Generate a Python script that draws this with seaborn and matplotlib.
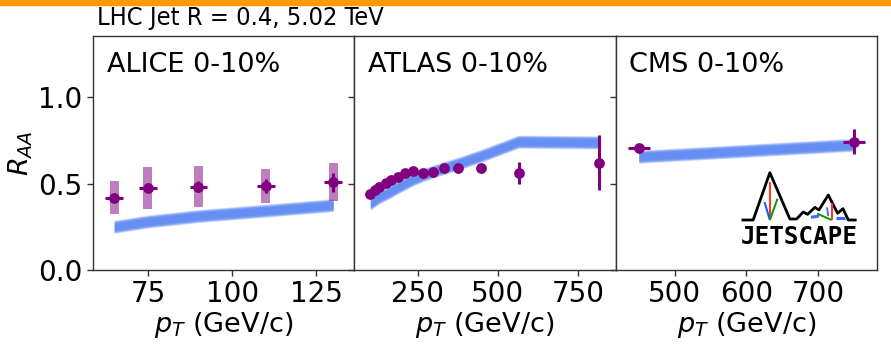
import numpy as np
import matplotlib
matplotlib.use("Agg")
import matplotlib.pyplot as plt
from matplotlib.patches import Rectangle
import seaborn as sns

# ---------------- data ----------------
# ALICE 0-10%
alice_pt = [65, 75, 90, 110, 130]
alice_raa = [0.418, 0.476, 0.482, 0.487, 0.507]
alice_stat = [0.010, 0.020, 0.033, 0.040, 0.056]
alice_sys = [0.097, 0.122, 0.118, 0.098, 0.110]
alice_xerr = [2.6, 2.6, 2.6, 2.6, 2.6]
alice_model = [0.250, 0.280, 0.312, 0.343, 0.375]

# ATLAS 0-10%
atlas_pt = [102, 117, 130, 151, 167, 188, 211, 236, 266, 299, 333, 377, 448, 565, 816]
atlas_raa = [0.439, 0.462, 0.482, 0.505, 0.520, 0.536, 0.559, 0.574, 0.559, 0.565,
             0.588, 0.588, 0.592, 0.563, 0.620]
atlas_stat = [0.010, 0.010, 0.010, 0.010, 0.010, 0.010, 0.010, 0.010, 0.010, 0.010,
              0.012, 0.014, 0.020, 0.063, 0.160]
atlas_model = [0.385, 0.403, 0.420, 0.440, 0.455, 0.478, 0.500, 0.524, 0.548, 0.570,
               0.590, 0.615, 0.660, 0.742, 0.738]

# CMS 0-10%
cms_pt = [450, 750]
cms_raa = [0.703, 0.742]
cms_stat = [0.020, 0.072]
cms_xerr = [15.7, 15.7]
cms_model = [0.655, 0.724]

panel_titles = ["ALICE 0-10%", "ATLAS 0-10%", "CMS 0-10%"]
panel_xticks = [[75, 100, 125], [250, 500, 750], [500, 600, 700]]
panel_xlims = [(58.7, 136.3), (52, 868), (417.7, 781.9)]
y_ticks = [0.0, 0.5, 1.0]
suptitle = "LHC Jet R = 0.4, 5.02 TeV"

# ---------------- style ----------------
sns.set_theme(style="ticks")
plt.rcParams.update({
    "font.family": ["DejaVu Sans"],
    "text.color": "black",
    "axes.labelcolor": "black",
    "axes.edgecolor": "#333333",
    "axes.linewidth": 1.0,
    "xtick.color": "#333333",
    "ytick.color": "#333333",
    "xtick.labelcolor": "black",
    "ytick.labelcolor": "black",
    "xtick.major.size": 4,
    "ytick.major.size": 4,
    "xtick.major.width": 1.0,
    "ytick.major.width": 1.0,
    "xtick.labelsize": 20,
    "ytick.labelsize": 20,
    "axes.labelsize": 19.5,
    "mathtext.fontset": "dejavusans",
})

MODEL_COLOR = "#4f7ff2"
DATA_COLOR = "purple"

fig, axes = plt.subplots(1, 3, sharey=True, figsize=(8.91, 3.46), dpi=100)
fig.subplots_adjust(left=93 / 891, right=877 / 891, bottom=76 / 346,
                    top=310 / 346, wspace=0)


def model_band(ax, x, y):
    """Soft-edged theory band: stacked translucent fills."""
    x = np.asarray(x, float)
    y = np.asarray(y, float)
    n = 8
    for i in range(n):
        half = 0.020 + 0.018 * (1 - i / (n - 1))
        ax.fill_between(x, y - half, y + half, color=MODEL_COLOR,
                        alpha=0.22, lw=0, zorder=1)


def data_points(ax, x, y, yerr, xerr=None):
    ax.errorbar(x, y, yerr=yerr, xerr=xerr, fmt="none", ecolor=DATA_COLOR,
                elinewidth=2.2, capsize=0, zorder=4)
    sns.scatterplot(x=x, y=y, ax=ax, color=DATA_COLOR, s=60,
                    edgecolor=DATA_COLOR, linewidth=0, zorder=5, legend=False)


# ALICE
ax = axes[0]
model_band(ax, alice_pt, alice_model)
ax.bar(alice_pt, [2 * s for s in alice_sys],
       bottom=[r - s for r, s in zip(alice_raa, alice_sys)],
       width=2.7, color=DATA_COLOR, alpha=0.5, lw=0, zorder=2)
data_points(ax, alice_pt, alice_raa, alice_stat, alice_xerr)

# ATLAS
ax = axes[1]
model_band(ax, atlas_pt, atlas_model)
data_points(ax, atlas_pt, atlas_raa, atlas_stat)

# CMS
ax = axes[2]
model_band(ax, cms_pt, cms_model)
data_points(ax, cms_pt, cms_raa, cms_stat, cms_xerr)

for ax, title, ticks, lims in zip(axes, panel_titles, panel_xticks, panel_xlims):
    ax.set_xlim(*lims)
    ax.set_xticks(ticks)
    ax.set_ylim(0, 1.353)
    ax.set_yticks(y_ticks)
    ax.set_xlabel(r"$p_T$ (GeV/c)", labelpad=1)
    ax.text(0.052, 0.93, title, transform=ax.transAxes, fontsize=19.5,
            ha="left", va="top")
    for sp in ax.spines.values():
        sp.set_visible(True)

axes[0].set_ylabel(r"$R_{AA}$", labelpad=2)

# JETSCAPE logo in the CMS panel
lax = axes[2]


def px(zx, zy):
    fx = (615 + zx / 3 - 616) / 261
    fy = (270 - (120 + zy / 3)) / 234
    return fx, fy


def logo_line(pts, color, lw):
    xs, ys = zip(*[px(a, b) for a, b in pts])
    lax.plot(xs, ys, color=color, lw=lw, transform=lax.transAxes,
             solid_capstyle="butt", zorder=6)


logo_line([(380, 300), (415, 300), (465, 158), (525, 297), (545, 297),
           (565, 276), (578, 283), (600, 262), (612, 270), (640, 225),
           (668, 280), (684, 266), (700, 300), (725, 300)], "black", 2.0)
logo_line([(465, 186), (465, 300)], "#ff3b1f", 1.5)
logo_line([(449, 246), (465, 300)], "#2255ff", 1.5)
logo_line([(488, 236), (465, 300)], "#119911", 1.5)
logo_line([(650, 250), (650, 300)], "#ff3b1f", 1.5)
logo_line([(607, 281), (650, 300)], "#119911", 1.5)
logo_line([(636, 262), (640, 288)], "#4466ff", 1.3)
logo_line([(588, 292), (612, 288)], "#4466ff", 2.2)
logo_line([(662, 294), (690, 294)], "#4466ff", 2.2)
tx, ty = px(553, 350)
lax.text(tx, ty, "JETSCAPE", transform=lax.transAxes, fontsize=17.5,
         fontweight="bold", ha="center", va="center", color="black",
         family="DejaVu Sans Mono", zorder=6)

# header
fig.text(97 / 891, 1 - 6 / 346, suptitle, fontsize=18.2, ha="left", va="top",
         family="DejaVu Sans", fontstretch="condensed")
fig.patches.append(Rectangle((0, 1 - 5 / 346), 1, 5 / 346,
                             transform=fig.transFigure, color="#ff9900",
                             zorder=10))

fig.savefig("out.png", dpi=100, facecolor="white")
